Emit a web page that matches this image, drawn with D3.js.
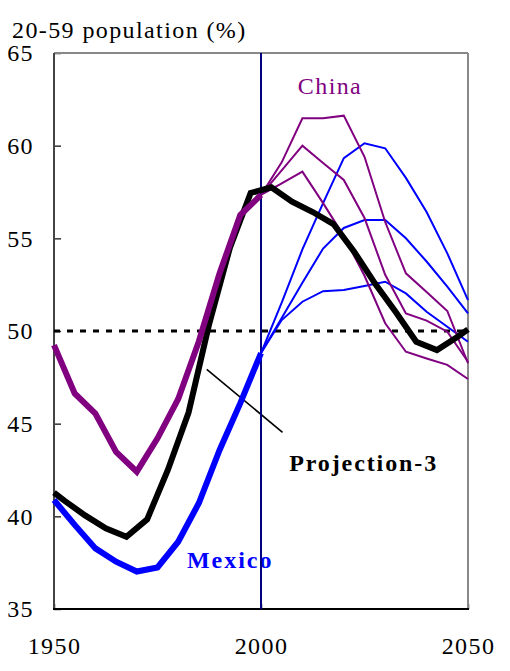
<!DOCTYPE html>
<html>
<head>
<meta charset="utf-8">
<script src="https://cdn.jsdelivr.net/npm/d3@7"></script>
<style>
  body { margin: 0; background: #fff; }
  svg { display: block; }
  text { font-family: "Liberation Serif", "Times New Roman", serif; }
</style>
</head>
<body>
<svg id="chart" width="510" height="671"></svg>
<script>
// Share of population aged 20-59 (%), 1950-2050

// Historical period, 5-year steps
const histYears = [1950, 1955, 1960, 1965, 1970, 1975, 1980, 1985, 1990, 1995, 2000];
const chinaHist  = [49.24, 46.63, 45.55, 43.48, 42.41, 44.21, 46.33, 49.45, 53.12, 56.26, 57.34];
const mexicoHist = [40.88, 39.54, 38.27, 37.55, 37.02, 37.24, 38.63, 40.72, 43.58, 46.11, 48.81];

// Projection period, 5-year steps
const projYears = [2000, 2005, 2010, 2015, 2020, 2025, 2030, 2035, 2040, 2045, 2050];
const chinaHigh = [57.34, 59.10, 61.48, 61.48, 61.62, 59.40, 55.88, 53.11, 52.10, 51.08, 48.26];
const chinaMid  = [57.34, 58.67, 60.00, 59.06, 58.15, 56.10, 53.03, 50.95, 50.56, 49.96, 48.34];
const chinaLow  = [57.34, 57.97, 58.60, 56.90, 55.12, 52.98, 50.42, 48.88, 48.52, 48.17, 47.41];
const mexicoHigh = [48.81, 51.53, 54.40, 56.90, 59.33, 60.13, 59.86, 58.26, 56.42, 54.19, 51.67];
const mexicoMid  = [48.81, 50.70, 52.60, 54.45, 55.56, 55.99, 55.99, 55.00, 53.75, 52.39, 50.95];
const mexicoLow  = [48.81, 50.59, 51.58, 52.15, 52.21, 52.43, 52.66, 52.03, 51.04, 50.23, 49.42];

// Reference series, period mid-points
const refYears  = [1950, 1952.5, 1957.5, 1962.5, 1967.5, 1972.5, 1977.5, 1982.5, 1987.5, 1992.5, 1997.5,
                   2002.5, 2007.5, 2012.5, 2017.5, 2022.5, 2027.5, 2032.5, 2037.5, 2042.5, 2047.5, 2050];
const refValues = [41.28, 40.85, 40.05, 39.35, 38.90, 39.84, 42.50, 45.60, 50.40, 54.50, 57.45,
                   57.75, 56.98, 56.42, 55.77, 54.28, 52.57, 51.04, 49.42, 48.97, 49.69, 50.09];

// Axis ticks
const yTicks = [35, 40, 45, 50, 55, 60, 65];
const xTicks = [1950, 2000, 2050];
const threshold = 50;
const splitYear = 2000;

// Annotations: [year, value]
const chinaLabel = ["China", 2008.9, 62.79];
const mexicoLabel = ["Mexico", 1982.1, 37.21];
const projLabel = ["Projection-3", 2006.8, 42.45];
const leader = [[1986.9, 47.93], [2005.2, 44.53]];

const W = 510, H = 671;
const margin = { top: 53, right: 42, bottom: 62, left: 54 };
const svg = d3.select("#chart");

const x = d3.scaleLinear().domain([1950, 2050]).range([margin.left, W - margin.right]);
const y = d3.scaleLinear().domain([35, 65]).range([H - margin.bottom, margin.top]);

const PURPLE = "#800080", BLUE = "#0000ff", NAVY = "#000080";

// Title
svg.append("text")
  .attr("x", 12).attr("y", 38)
  .attr("font-size", 24).attr("letter-spacing", 1.4)
  .attr("fill", "#000")
  .text("20-59 population (%)");

// Y axis (ticks point inward)
const gy = svg.append("g")
  .attr("transform", `translate(${margin.left},0)`)
  .call(d3.axisLeft(y).tickValues(yTicks).tickSize(-7).tickPadding(20).tickFormat(d3.format("d")));
gy.select(".domain").remove();
gy.selectAll(".tick line").attr("stroke", "#333").attr("stroke-width", 1.5);
gy.selectAll(".tick text")
  .attr("font-family", '"Liberation Serif", "Times New Roman", serif')
  .attr("font-size", 24).attr("letter-spacing", 1.4).attr("fill", "#000");

// X axis
const gx = svg.append("g")
  .attr("transform", `translate(0,${H - margin.bottom})`)
  .call(d3.axisBottom(x).tickValues(xTicks).tickSize(-5).tickPadding(28).tickFormat(d3.format("d")));
gx.select(".domain").remove();
gx.selectAll(".tick line").attr("stroke", "#333").attr("stroke-width", 1.5);
gx.selectAll(".tick text")
  .attr("font-family", '"Liberation Serif", "Times New Roman", serif')
  .attr("font-size", 24).attr("letter-spacing", 1.4).attr("fill", "#000");

// Plot frame
const x0 = x(1950), x1 = x(2050), y0 = y(35), y1 = y(65);
svg.append("line").attr("x1", x0).attr("x2", x1).attr("y1", y1).attr("y2", y1)
  .attr("stroke", "#888").attr("stroke-width", 2);
svg.append("line").attr("x1", x1).attr("x2", x1).attr("y1", y1).attr("y2", y0)
  .attr("stroke", "#888").attr("stroke-width", 2);
svg.append("line").attr("x1", x0).attr("x2", x0).attr("y1", y1).attr("y2", y0)
  .attr("stroke", "#444").attr("stroke-width", 2);
svg.append("line").attr("x1", x0 - 1).attr("x2", x1 + 1).attr("y1", y0).attr("y2", y0)
  .attr("stroke", "#000").attr("stroke-width", 2);

// Text labels
svg.append("text")
  .attr("x", x(chinaLabel[1])).attr("y", y(chinaLabel[2]))
  .attr("font-size", 24).attr("letter-spacing", 1.4).attr("fill", PURPLE)
  .text(chinaLabel[0]);
svg.append("text")
  .attr("x", x(mexicoLabel[1])).attr("y", y(mexicoLabel[2]))
  .attr("font-size", 24).attr("font-weight", "bold").attr("letter-spacing", 2).attr("fill", BLUE)
  .text(mexicoLabel[0]);
svg.append("text")
  .attr("x", x(projLabel[1])).attr("y", y(projLabel[2]))
  .attr("font-size", 24).attr("font-weight", "bold").attr("letter-spacing", 1.9).attr("fill", "#000")
  .text(projLabel[0]);

// Leader line
svg.append("line")
  .attr("x1", x(leader[0][0])).attr("y1", y(leader[0][1]))
  .attr("x2", x(leader[1][0])).attr("y2", y(leader[1][1]))
  .attr("stroke", "#000").attr("stroke-width", 1.6);

// 50% threshold
svg.append("line")
  .attr("x1", x0).attr("x2", x1).attr("y1", y(threshold)).attr("y2", y(threshold))
  .attr("stroke", "#000").attr("stroke-width", 3).attr("stroke-dasharray", "6,7");

// Year 2000 divider
svg.append("line")
  .attr("x1", x(splitYear)).attr("x2", x(splitYear)).attr("y1", y1).attr("y2", y0)
  .attr("stroke", NAVY).attr("stroke-width", 2);

const line = d3.line().x(d => x(d[0])).y(d => y(d[1]));
const zip = (xs, vs) => xs.map((v, i) => [v, vs[i]]);

function drawSeries(xs, vs, color, width) {
  svg.append("path")
    .datum(zip(xs, vs))
    .attr("d", line)
    .attr("fill", "none")
    .attr("stroke", color)
    .attr("stroke-width", width)
    .attr("stroke-linejoin", "miter")
    .attr("stroke-miterlimit", 3);
}

// Projections (thin)
[mexicoHigh, mexicoMid, mexicoLow].forEach(s => drawSeries(projYears, s, BLUE, 2));
[chinaHigh, chinaMid, chinaLow].forEach(s => drawSeries(projYears, s, PURPLE, 2));

// Reference series (thick black)
drawSeries(refYears, refValues, "#000", 6);

// Historical series (thick)
drawSeries(histYears, chinaHist, PURPLE, 6);
drawSeries(histYears, mexicoHist, BLUE, 6);
</script>
</body>
</html>
